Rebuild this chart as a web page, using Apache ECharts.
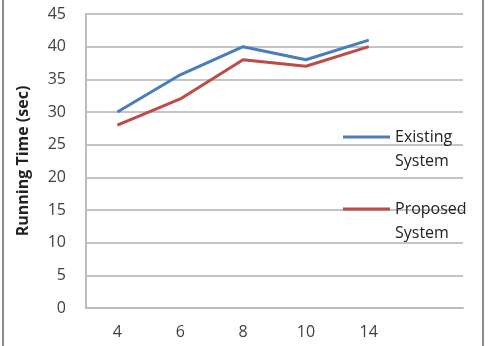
<!DOCTYPE html>
<html>
<head>
<meta charset="utf-8">
<script src="https://cdn.jsdelivr.net/npm/echarts@6/dist/echarts.min.js"></script>
<style>
  html, body { margin: 0; padding: 0; background: #fff; }
  #chart { width: 492px; height: 346px; }
</style>
</head>
<body>
<div id="chart"></div>
<script>
// categories (last slot is empty, like the original sheet)
const categories = ['4', '6', '8', '10', '14', ''];
const existingSystem = [30, 35.7, 40, 38, 41, null];
const proposedSystem = [28, 32, 38, 37, 40, null];

const chart = echarts.init(document.getElementById('chart'));

const labelFont = { color: '#404040', fontSize: 16, fontFamily: 'Open Sans' };

chart.setOption({
  animation: false,
  grid: { left: 86, top: 14, right: 29, bottom: 38 },
  xAxis: {
    type: 'category',
    data: categories,
    boundaryGap: true,
    axisLine: { lineStyle: { color: '#bdbdbd', width: 2 } },
    axisTick: { show: false },
    axisLabel: Object.assign({ margin: 16 }, labelFont),
  },
  yAxis: {
    type: 'value', min: 0, max: 45, interval: 5,
    name: 'Running Time (sec)',
    nameLocation: 'middle',
    nameGap: 55,
    nameTextStyle: { color: '#222', fontSize: 16, fontWeight: 'bold', fontFamily: 'Open Sans' },
    axisLine: { show: true, lineStyle: { color: '#bdbdbd', width: 2 } },
    axisTick: { show: false },
    axisLabel: Object.assign({ margin: 20 }, labelFont),
    splitLine: { lineStyle: { color: '#c4c4c4', width: 2 } },
  },
  legend: {
    orient: 'vertical',
    left: 338,
    top: 96,
    itemWidth: 47,
    itemHeight: 3,
    itemGap: 0,
    icon: 'rect',
    // empty first line so the key line sits beside the first word
    formatter: name => '\n' + name.replace(' ', '\n'),
    textStyle: { color: '#222', fontSize: 16, fontFamily: 'Open Sans', lineHeight: 24 },
    data: ['Existing System', 'Proposed System'],
  },
  series: [
    {
      name: 'Existing System', type: 'line', data: existingSystem,
      symbol: 'none', color: '#4a7ebb',
      lineStyle: { width: 3, color: '#4a7ebb' },
    },
    {
      name: 'Proposed System', type: 'line', data: proposedSystem,
      symbol: 'none', color: '#be4b48',
      lineStyle: { width: 3, color: '#be4b48' },
    },
  ],
  graphic: [
    { type: 'line', shape: { x1: 3, y1: 0, x2: 3, y2: 346 }, style: { stroke: '#8c8c8c', lineWidth: 2 } },
    { type: 'line', shape: { x1: 483, y1: 0, x2: 483, y2: 346 }, style: { stroke: '#8c8c8c', lineWidth: 2 } },
  ],
});
</script>
</body>
</html>
